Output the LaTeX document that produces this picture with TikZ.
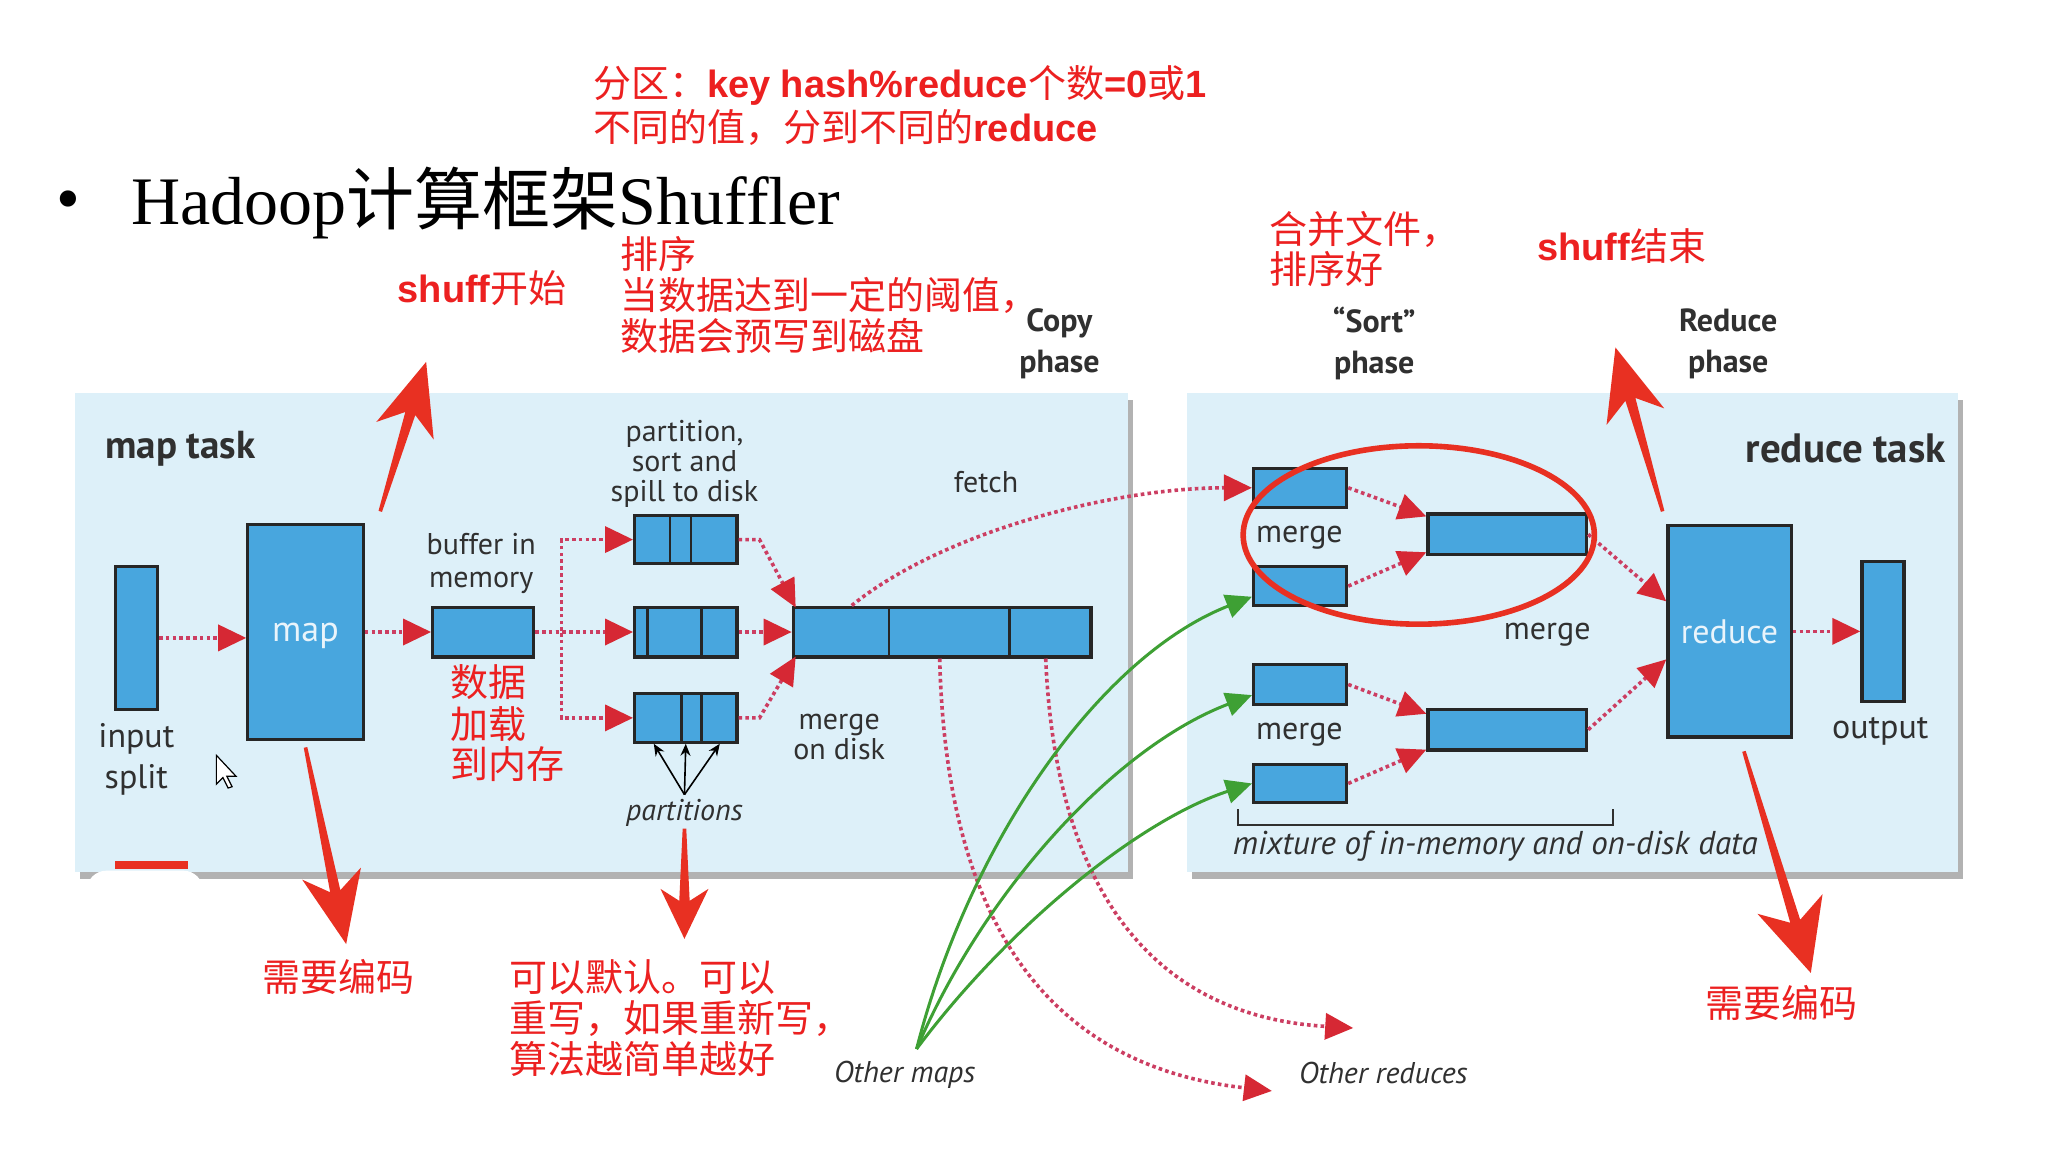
\documentclass[tikz,border=0pt]{standalone}
\usepackage{fontspec}
\setmainfont{Liberation Serif}
\newfontfamily\cjk{Noto Sans CJK SC}
\newfontfamily\dsans{PT Sans}
\newfontfamily\asans{Liberation Sans}
\usetikzlibrary{arrows.meta,calc,fit,shadows}
\definecolor{panelblue}{RGB}{221,240,249}
\definecolor{boxblue}{RGB}{72,166,222}
\definecolor{dotred}{RGB}{204,62,98}
\definecolor{headred}{RGB}{214,40,52}
\definecolor{annred}{RGB}{232,48,34}
\definecolor{notered}{RGB}{236,32,32}
\definecolor{arrgreen}{RGB}{62,160,52}
\definecolor{txtgray}{RGB}{48,48,48}
\newcommand\bl[1]{{\asans\bfseries #1}}
\newcommand\bigarrow[6]{%
  \coordinate (ba-s) at #1;
  \coordinate (ba-t) at #2;
  \coordinate (ba-b) at ($(ba-t)!#3!(ba-s)$);
  \coordinate (ba-i) at ($(ba-t)!#5!(ba-s)$);
  \fill[annred] ($(ba-s)!0.9pt!90:(ba-t)$) -- ($(ba-i)!#6!90:(ba-t)$) -- ($(ba-b)!#4!90:(ba-t)$) -- (ba-t)
     -- ($(ba-b)!#4!-90:(ba-t)$) -- ($(ba-i)!#6!-90:(ba-t)$) -- ($(ba-s)!0.9pt!-90:(ba-t)$) -- cycle;
}
\tikzset{
  panel/.style={fill=panelblue, draw=none, inner sep=0pt,
     drop shadow={shadow xshift=2.5pt, shadow yshift=-3.5pt, fill=black, opacity=0.3}},
  box/.style={fill=boxblue, draw=black!85, line width=1.6pt, inner sep=0pt},
  divider/.style={draw=black!85, line width=1.4pt},
  dotarr/.style={draw=dotred, line width=1.8pt, dash pattern=on 1.8pt off 1.6pt,
     -{Triangle[length=14pt,width=13pt,color=headred]}},
  grarr/.style={draw=arrgreen, line width=1.5pt, -{Triangle[length=13pt,width=12pt,color=arrgreen]}},
  note/.style={anchor=west, inner sep=0pt, text=notered, font=\cjk\fontsize{19}{21}\selectfont},
  lab/.style={inner sep=0pt, text=txtgray, align=center, font=\dsans\fontsize{15}{15}\selectfont},
  blab/.style={inner sep=0pt, text=txtgray, align=center, font=\dsans\bfseries\fontsize{16}{20.3}\selectfont},
  ilab/.style={inner sep=0pt, text=txtgray, font=\dsans\itshape\fontsize{15}{15}\selectfont},
}
\begin{document}
\begin{tikzpicture}[x=0.6556pt, y=-0.6556pt]
\useasboundingbox (0,0) rectangle (1568,894);
\fill[white] (0,0) rectangle (1568,894);

% ---------- panels ----------
\node[panel, fit={(57,300) (860,665)}] (mapp) {};
\node[panel, fit={(905,300) (1493,665)}] (redp) {};

% ---------- title ----------
\node[inner sep=0pt, font=\fontsize{34}{34}\selectfont] (bul) at (52,157) {\textbullet};
\node[anchor=west, inner sep=0pt, font=\fontsize{34}{34}\selectfont] (ttl) at (100,155) {Hadoop{\cjk 计算框架}Shuffler};

% ---------- red notes ----------
\node[note] (n1) at (452,65) {分区：\bl{key hash\%reduce}个数\bl{=0}或\bl{1}};
\node[note] (n2) at (452,97) {不同的值，分到不同的\bl{reduce}};
\node[note] (n3) at (303,220) {\bl{shuff}开始};
\node[note] (n4) at (473,194) {排序};
\node[note] (n5) at (473,225) {当数据达到一定的阈值，};
\node[note] (n6) at (473,256) {数据会预写到磁盘};
\node[note] (n7) at (968,175) {合并文件，};
\node[note] (n8) at (968,205) {排序好};
\node[note] (n9) at (1172,188) {\bl{shuff}结束};
\node[note] (n10) at (343,520) {数据};
\node[note] (n11) at (343,552) {加载};
\node[note] (n12) at (343,583) {到内存};
\node[note] (n13) at (200,745) {需要编码};
\node[note] (n14) at (388,745) {可以默认。可以};
\node[note] (n15) at (388,777) {重写，如果重新写，};
\node[note] (n16) at (388,808) {算法越简单越好};
\node[note] (n17) at (1300,765) {需要编码};

% ---------- phase labels ----------
\node[blab] (tcopy) at (808,262) {Copy\\phase};
\node[blab] (tsort) at (1048,262) {“Sort”\\phase};
\node[blab] (treph) at (1318,262) {Reduce\\phase};
\node[blab, anchor=west, font=\dsans\bfseries\fontsize{19.5}{19.5}\selectfont] (tmap) at (80,342) {map task};
\node[blab, anchor=east, font=\dsans\bfseries\fontsize{20.5}{20.5}\selectfont] (tred) at (1484,342) {reduce task};

% ---------- map side boxes ----------
\node[box, fit={(88,432) (120,541)}] (insplit) {};
\node[box, fit={(189,400) (277,564)}] (mapb) {};
\node[box, fit={(330,463) (407,501)}] (buf) {};
\node[box, fit={(484,393) (562,430)}] (sp1) {};
\node[box, fit={(484,463) (562,501)}] (sp2) {};
\node[box, fit={(484,529) (562,566)}] (sp3) {};
\node[box, fit={(605,463) (832,501)}] (mrg) {};
\draw[divider] (511,393) -- (511,430) (527,393) -- (527,430);
\draw[divider] (494,463) -- (494,501) (535,463) -- (535,501);
\draw[divider] (520,529) -- (520,566) (535,529) -- (535,566);
\draw[divider] (678,463) -- (678,501) (770,463) -- (770,501);

% ---------- reduce side boxes ----------
\node[box, fit={(956,357) (1027,387)}] (m1a) {};
\node[box, fit={(956,432) (1027,462)}] (m1b) {};
\node[box, fit={(1089,392) (1210,423)}] (r1) {};
\node[box, fit={(956,507) (1027,537)}] (m2a) {};
\node[box, fit={(956,583) (1027,612)}] (m2b) {};
\node[box, fit={(1089,541) (1210,572)}] (r2) {};
\node[box, fit={(1272,401) (1366,562)}] (redb) {};
\node[box, fit={(1420,428) (1452,535)}] (outb) {};

% ---------- labels ----------
\node[lab, font=\dsans\fontsize{17}{20.3}\selectfont] (tin) at (104,579) {input\\split};
\node[lab, text=white!88!boxblue, font=\dsans\fontsize{18}{18}\selectfont] (tmapl) at ([yshift=-2pt]mapb.center) {map};
\node[lab, font=\dsans\fontsize{15}{16.4}\selectfont] (tbuf) at (367,430) {buffer in\\memory};
\node[lab] (tpart) at (522,354) {partition,\\sort and\\spill to disk};
\node[lab] (tfetch) at (752,368) {fetch};
\node[lab] (tmod) at (640,562) {merge\\on disk};
\node[ilab] (tparts) at (522,620) {partitions};
\node[lab, font=\dsans\fontsize{16}{16}\selectfont] (tm1) at (991,410) {merge};
\node[lab, font=\dsans\fontsize{16}{16}\selectfont] (tm2) at (1180,484) {merge};
\node[lab, font=\dsans\fontsize{16}{16}\selectfont] (tm3) at (991,560) {merge};
\node[lab, text=white!88!boxblue, font=\dsans\fontsize{17}{17}\selectfont] (tredl) at (redb.center) {reduce};
\node[lab, font=\dsans\fontsize{17}{17}\selectfont] (tout) at (1434,558) {output};
\node[ilab, anchor=west, font=\dsans\itshape\fontsize{16.5}{16.5}\selectfont] (tmix) at (940,645) {mixture of in-memory and on-disk data};
\node[ilab] (tom) at (690,820) {Other maps};
\node[ilab] (tor) at (1055,818) {Other reduces};

% ---------- bracket ----------
\draw[txtgray, line width=1pt] (944,617) -- (944,629) -- (1230,629) -- (1230,617);

% ---------- map side connectors ----------
\draw[dotarr] (insplit.east) -- (insplit.east -| mapb.west);
\draw[dotarr] (mapb.east) -- (buf.west);
\draw[dotarr] (buf.east) -- ++(20,0) |- (sp1.west);
\draw[dotarr] (buf.east) -- (sp2.west);
\draw[dotarr] (buf.east) -- ++(20,0) |- (sp3.west);
\draw[dotarr] (sp1.east) -- ++(16,0) -- ([xshift=2pt,yshift=-1pt]mrg.north west);
\draw[dotarr] (sp2.east) -- (mrg.west);
\draw[dotarr] (sp3.east) -- ++(16,0) -- ([xshift=2pt,yshift=1pt]mrg.south west);

% partitions pointers
\coordinate (pp) at (522,606);
\draw[black, line width=0.8pt, -{Stealth[length=6pt,width=5pt]}] (pp) -- ([xshift=-16pt]sp3.south);
\draw[black, line width=0.8pt, -{Stealth[length=6pt,width=5pt]}] (pp) -- (sp3.south);
\draw[black, line width=0.8pt, -{Stealth[length=6pt,width=5pt]}] (pp) -- ([xshift=17pt]sp3.south);

% fetch and other reduces
\draw[dotarr] ([xshift=30pt]mrg.north west) .. controls (720,405) and (850,372) .. (m1a.west);
\coordinate (ora) at (970,832);
\coordinate (orb) at (1032,784);
\draw[dotarr] ([xshift=74pt]mrg.south west) .. controls (722,730) and (820,815) .. (ora);
\draw[dotarr] ([xshift=127pt]mrg.south west) .. controls (805,680) and (880,775) .. (orb);

% other maps (green)
\coordinate (om) at (699,800);
\draw[grarr] (om) .. controls (740,640) and (840,500) .. ($(m1b.west)!0.5!(m1b.south west)$);
\draw[grarr] (om) .. controls (750,680) and (850,570) .. ($(m2a.west)!0.5!(m2a.south west)$);
\draw[grarr] (om) .. controls (770,705) and (870,625) .. (m2b.west);

% ---------- reduce side connectors ----------
\draw[dotarr] (m1a.east) -- ([yshift=-2pt]r1.north west);
\draw[dotarr] (m1b.east) -- ([yshift=2pt]r1.south west);
\draw[dotarr] (m2a.east) -- ([yshift=-3pt]r2.north west);
\draw[dotarr] (m2b.east) -- ([yshift=1pt]r2.south west);
\draw[dotarr] (r1.east) -- ([yshift=15pt]redb.west);
\draw[dotarr] (r2.east) -- ([yshift=-14pt]redb.west);
\draw[dotarr] (redb.east) -- (outb.west);

% ---------- annotation marks ----------
\draw[annred, line width=2.8pt] (1082,408) ellipse [x radius=87.8pt, y radius=44.6pt];
\bigarrow{(290,390)}{(325,276)}{36pt}{15pt}{27pt}{2.6pt}
\bigarrow{(233,570)}{(264,720)}{36pt}{15pt}{27pt}{2.6pt}
\bigarrow{(522,632)}{(522,716)}{25pt}{12pt}{19pt}{2.6pt}
\bigarrow{(1268,390)}{(1232,265)}{36pt}{15pt}{27pt}{2.6pt}
\bigarrow{(1330,573)}{(1381,742)}{36pt}{17pt}{27pt}{2.6pt}

% cursor and screenshot marks
\draw[black, line width=0.6pt, fill=white] (165,576) -- (165,598) -- (170,593) -- (174,601) -- (177,600) -- (173,592) -- (180,592) -- cycle;
\fill[annred] (88,657) rectangle (143,663);
\fill[white, rounded corners=10pt] (66,664) rectangle (155,700);
\end{tikzpicture}
\end{document}
